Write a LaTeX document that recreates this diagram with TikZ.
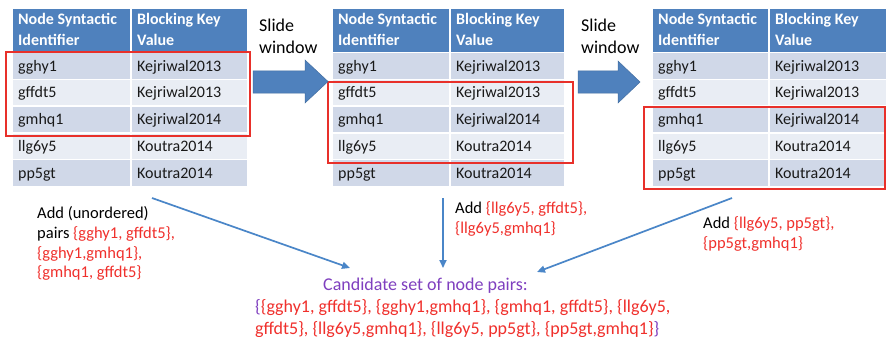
\documentclass[tikz,border=0pt]{standalone}
\usepackage{fontspec}
\setmainfont{Carlito}
\usetikzlibrary{arrows.meta}

\definecolor{hdrblue}{HTML}{4F81BD}
\definecolor{rowdark}{HTML}{D0D8E8}
\definecolor{rowlight}{HTML}{E9EDF4}
\definecolor{winred}{HTML}{E8302A}
\definecolor{pairred}{HTML}{F0302C}
\definecolor{setpurple}{HTML}{7F3FBF}
\definecolor{flowblue}{HTML}{4A86C8}

\tikzset{
  cell/.style={draw=white, line width=1.3pt},
  hdrtext/.style={anchor=base west, text=white, inner sep=0pt,
    font=\fontsize{16}{18}\selectfont\bfseries},
  celltext/.style={anchor=base west, inner sep=0pt, text=black!90,
    font=\fontsize{16}{18}\selectfont},
  window/.style={draw=winred, line width=2pt},
  slidearrow/.style={fill=hdrblue, draw=hdrblue!85!black, line width=0.5pt},
  slidetext/.style={anchor=base west, inner sep=0pt,
    font=\fontsize{18}{21}\selectfont},
  flow/.style={draw=flowblue, line width=1.7pt, -{Triangle[length=8pt,width=7pt]}},
  note/.style={anchor=base west, inner sep=0pt, font=\fontsize{16.5}{19}\selectfont},
  setline/.style={anchor=base west, inner sep=0pt, text=pairred,
    font=\fontsize{18}{21}\selectfont},
}

% one block table: #1 name prefix, #2 left edge, #3 column split, #4 right edge
\newcommand\keytable[4]{%
  \path[cell, fill=hdrblue] (#2,8) rectangle (#3,52.5);
  \path[cell, fill=hdrblue] (#3,8) rectangle (#4,52.5);
  \node[hdrtext] (#1-h1) at (#2+6,25) {Node Syntactic};
  \node[hdrtext] at (#2+6,46) {Identifier};
  \node[hdrtext] (#1-h2) at (#3+6,25) {Blocking Key};
  \node[hdrtext] at (#3+6,46) {Value};
  \foreach \r/\c/\id/\key in {0/rowdark/gghy1/Kejriwal2013,
                              1/rowlight/gffdt5/Kejriwal2013,
                              2/rowdark/gmhq1/Kejriwal2014,
                              3/rowlight/llg6y5/Koutra2014,
                              4/rowdark/pp5gt/Koutra2014}{
    \path[cell, fill=\c] (#2,{52.5+26.8*\r}) rectangle (#3,{52.5+26.8*(\r+1)});
    \path[cell, fill=\c] (#3,{52.5+26.8*\r}) rectangle (#4,{52.5+26.8*(\r+1)});
    \node[celltext] (#1-id\r) at (#2+6,{52.5+26.8*\r+18.5}) {\id};
    \node[celltext] (#1-key\r) at (#3+6,{52.5+26.8*\r+18.5}) {\key};
  }
}

\begin{document}
\begin{tikzpicture}[x=1pt, y=-1pt]
  \useasboundingbox (0,0) rectangle (886,337);
  \fill[white] (0,0) rectangle (886,337);

  % the three window positions
  \keytable{ta}{12}{131}{248}
  \keytable{tb}{332}{450}{565}
  \keytable{tc}{652}{769}{890}

  % sliding windows
  \draw[window] (6,52) rectangle (250,136);
  \draw[window] (328,82) rectangle (573,163);
  \draw[window] (644,107) rectangle (885,189);

  % block arrows between the positions
  \path[slidearrow] (253,71) -- (305,71) -- (305,60) -- (328,81.5)
     -- (305,103) -- (305,93) -- (253,93) -- cycle;
  \path[slidearrow] (578,71) -- (618,71) -- (618,61) -- (640,82)
     -- (618,103) -- (618,93) -- (578,93) -- cycle;
  \node[slidetext] (s1a) at (259,32) {Slide};
  \node[slidetext] (s1b) at (259,53) {window};
  \node[slidetext] (s2a) at (581,32) {Slide};
  \node[slidetext] (s2b) at (581,53) {window};

  % notes on the pairs added at each step
  \node[note] (n1a) at (37,218) {Add (unordered)};
  \node[note] (n1b) at (37,238) {pairs \textcolor{pairred}{\{gghy1, gffdt5\},}};
  \node[note, text=pairred] (n1c) at (37,258) {\{gghy1,gmhq1\},};
  \node[note, text=pairred] (n1d) at (37,277) {\{gmhq1, gffdt5\}};

  \node[note] (n2a) at (455,213) {Add \textcolor{pairred}{\{llg6y5, gffdt5\},}};
  \node[note, text=pairred] (n2b) at (455,233) {\{llg6y5,gmhq1\}};

  \node[note] (n3a) at (703,228) {Add \textcolor{pairred}{\{llg6y5, pp5gt\},}};
  \node[note, text=pairred] (n3b) at (703,248) {\{pp5gt,gmhq1\}};

  % resulting candidate set
  \node[setline, text=setpurple] (cand) at (323,290) {Candidate set of node pairs:};
  \node[setline] (set1) at (255,312)
    {\textcolor{setpurple}{\{}\{gghy1, gffdt5\}, \{gghy1,gmhq1\}, \{gmhq1, gffdt5\}, \{llg6y5,};
  \node[setline] (set2) at (255,334)
    {gffdt5\}, \{llg6y5,gmhq1\}, \{llg6y5, pp5gt\}, \{pp5gt,gmhq1\}\textcolor{setpurple}{\}}};

  % flow of pairs into the candidate set
  \coordinate (fa) at (152,198);
  \coordinate (fb) at (443,198);
  \coordinate (fc) at (732,198);
  \coordinate (ea) at (350,268);
  \coordinate (eb) at (443,268);
  \coordinate (ec) at (537,272);
  \draw[flow] (fa) -- (ea);
  \draw[flow] (fb) -- (eb);
  \draw[flow] (fc) -- (ec);
\end{tikzpicture}
\end{document}
